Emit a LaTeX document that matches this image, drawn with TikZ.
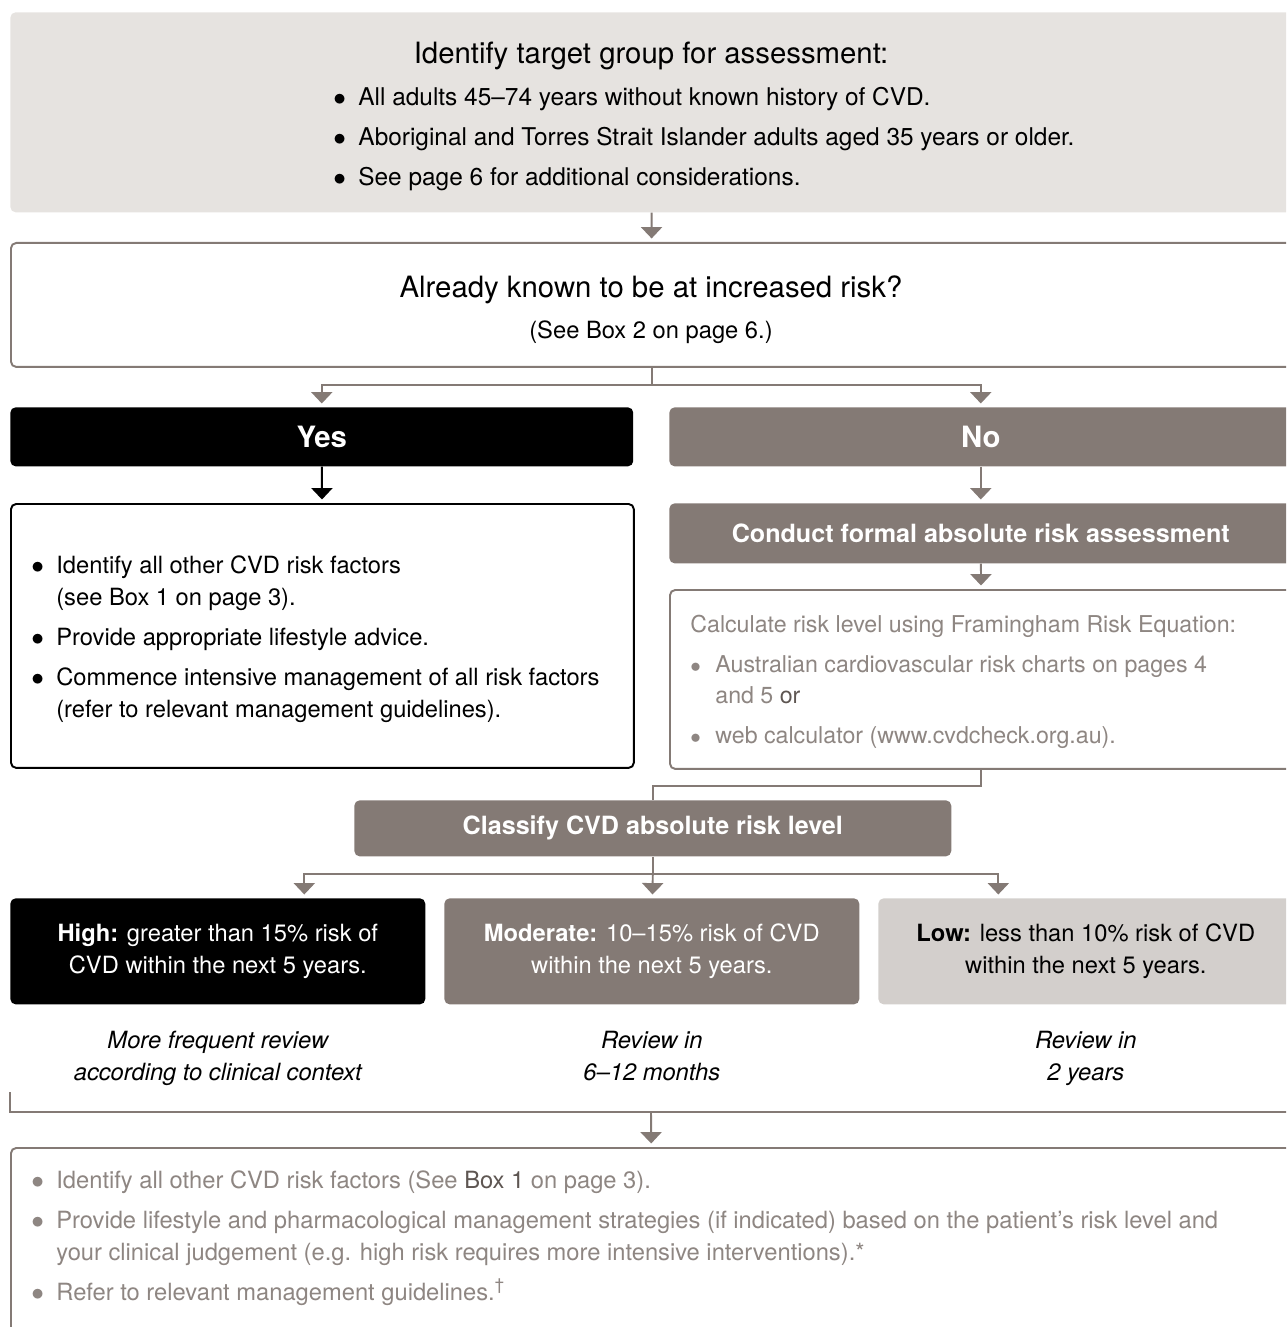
\documentclass[tikz,border=0pt]{standalone}
\usepackage{fontspec}
\setmainfont{TeX Gyre Heros}
\usetikzlibrary{arrows.meta, positioning}
\definecolor{cvdgrey}{HTML}{847A75}
\definecolor{cvdpale}{HTML}{E6E3E0}
\definecolor{cvdlight}{HTML}{D3CFCC}
\definecolor{cvdsoft}{HTML}{8E8682}
\definecolor{cvddark}{HTML}{5E5652}
\newcommand{\cvdhead}{\fontsize{16.7}{20}\selectfont}
\newcommand{\cvdbody}{\fontsize{13.5}{18.2}\selectfont}
\newcommand{\cvdbold}{\fontsize{14.3}{17}\selectfont\bfseries}
\newcommand{\cvdbig}{\fontsize{16.7}{20}\selectfont\bfseries}
\newcommand{\cvdrisk}{\fontsize{13.5}{18.2}\selectfont}
\newcommand{\bul}{\makebox[0.5cm][l]{$\bullet$}}
\newcommand{\bulgap}{\hspace*{0.5cm}}
\tikzstyle{panel}=[rectangle, rounded corners=3pt, inner sep=0pt, anchor=north west, minimum width=25.64cm]
\tikzstyle{flow}=[line width=1.1pt, color=cvdgrey, shorten >=2pt, -{Triangle[width=12pt,length=6.5pt]}]
\tikzstyle{link}=[line width=1.1pt, color=cvdgrey]
\tikzstyle{words}=[inner sep=0pt, anchor=base west, align=left]

\begin{document}
\begin{tikzpicture}[x=0.02cm, y=-0.02cm]
  \useasboundingbox (0,0) rectangle (1286,1327);
  \clip (0,0) rectangle (1286,1327);

  % who to assess
  \node[panel, fill=cvdpale, minimum height=4cm] (target) at (10,12) {};
  \node[words, anchor=base, font=\cvdhead] (targethead) at (651,64) {Identify target group for assessment:};
  \node[words, font=\fontsize{13.9}{22.8}\selectfont] (targetlist) at (333,186)
    {\bul All adults 45–74 years without known history of CVD.\\
     \bul Aboriginal and Torres Strait Islander adults aged 35 years or older.\\
     \bul See page 6 for additional considerations.};

  % already at risk?
  \node[panel, draw=cvdgrey, line width=1.1pt, fill=white, minimum height=2.48cm] (known) at (10,242) {};
  \node[words, anchor=base, font=\cvdhead] (knownhead) at (651,298) {Already known to be at increased risk?};
  \node[words, anchor=base, font=\fontsize{13.5}{16}\selectfont] (knownnote) at (651,338) {(See Box 2 on page 6.)};

  \node[panel, fill=black, text=white, font=\cvdbig, minimum width=12.46cm, minimum height=1.18cm] (yes) at (10,407) {Yes};
  \node[panel, fill=cvdgrey, text=white, font=\cvdbig, minimum width=12.46cm, minimum height=1.18cm] (no) at (669,407) {No};

  % yes branch
  \node[panel, draw=black, line width=1.1pt, fill=white, minimum width=12.46cm, minimum height=5.28cm] (yesbox) at (10,503) {};
  \node[words, font=\cvdbody] (yeslist) at (31,717)
    {\bul Identify all other CVD risk factors\\
     \bulgap (see Box 1 on page 3).\\[4.55pt]
     \bul Provide appropriate lifestyle advice.\\[4.55pt]
     \bul Commence intensive management of all risk factors\\
     \bulgap (refer to relevant management guidelines).};

  % no branch
  \node[panel, fill=cvdgrey, text=white, font=\cvdbold, minimum width=12.46cm, minimum height=1.2cm] (conduct) at (669,503) {Conduct formal absolute risk assessment};
  \node[panel, draw=cvdgrey, line width=1.1pt, fill=white, minimum width=12.46cm, minimum height=3.58cm] (calc) at (669,589) {};
  \node[words, text=cvdsoft, font=\fontsize{13.2}{17.6}\selectfont] (calclist) at (690,743)
    {Calculate risk level using Framingham Risk Equation:\\[5.1pt]
     \bul Australian cardiovascular risk charts on pages 4\\
     \bulgap and 5 {\color{cvddark}or}\\[5.1pt]
     \bul web calculator (www.cvdcheck.org.au).};

  % risk levels
  \node[panel, fill=cvdgrey, text=white, font=\cvdbold, minimum width=11.94cm, minimum height=1.12cm] (classify) at (354,800) {Classify CVD absolute risk level};
  \node[panel, fill=black, text=white, align=center, font=\cvdrisk, minimum width=8.3cm, minimum height=2.12cm] (high) at (10,898)
    {\textbf{High:} greater than 15\% risk of\\CVD within the next 5 years.};
  \node[panel, fill=cvdgrey, text=white, align=center, font=\cvdrisk, minimum width=8.3cm, minimum height=2.12cm] (moderate) at (444,898)
    {\textbf{Moderate:} 10–15\% risk of CVD\\within the next 5 years.};
  \node[panel, fill=cvdlight, text=black, align=center, font=\cvdrisk, minimum width=8.3cm, minimum height=2.12cm] (low) at (878,898)
    {\textbf{Low:} less than 10\% risk of CVD\\within the next 5 years.};

  \node[inner sep=0pt, align=center, font=\cvdrisk\itshape, below=0.52cm of high] (highnote) {More frequent review\\according to clinical context};
  \node[inner sep=0pt, align=center, font=\cvdrisk\itshape, below=0.52cm of moderate] (moderatenote) {Review in\\6–12 months};
  \node[inner sep=0pt, align=center, font=\cvdrisk\itshape, below=0.52cm of low] (lownote) {Review in\\2 years};

  % what to do next
  \coordinate (brleft) at (10,1092);
  \coordinate (brright) at (1292,1092);
  \coordinate (brmid) at (651,1112);
  \node[panel, draw=cvdgrey, line width=1.1pt, fill=white, minimum height=4cm] (advice) at (10,1147) {};
  \node[words, text=cvdsoft, font=\cvdbody] (advicelist) at (31,1300)
    {\bul Identify all other CVD risk factors (See {\color{cvddark}Box 1} on page 3).\\[4.55pt]
     \bul Provide lifestyle and pharmacological management strategies (if indicated) based on the patient’s risk level and\\
     \bulgap your clinical judgement (e.g. high risk requires more intensive interventions).*\\[4.55pt]
     \bul Refer to relevant management guidelines.\textsuperscript{\textdagger}};

  \draw[flow] (target) -- (known);
  \draw[flow] (known.south) -- ++(0,17) coordinate (knownsplit) -| (yes);
  \draw[flow] (knownsplit) -| (no);
  \draw[flow, color=black] (yes) -- (yesbox);
  \draw[flow] (no) -- (conduct);
  \draw[flow] (conduct) -- (calc);
  \draw[link] (calc.south) -- ++(0,16) -| (classify.north);
  \draw[link] (classify.south) -- ++(0,17) coordinate (classsplit);
  \draw[flow] (classsplit) -| ([xshift=1.73cm]high.north);
  \draw[flow] (classsplit) -- (moderate);
  \draw[flow] (classsplit) -| ([xshift=-1.75cm]low.north);
  \draw[link] (brleft) -- ++(0,20) -| (brright);
  \draw[flow] (brmid) -- (advice);
\end{tikzpicture}
\end{document}
